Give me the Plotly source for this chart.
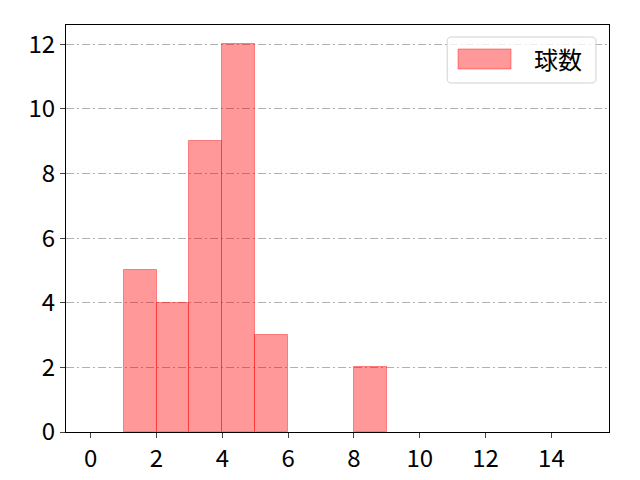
import plotly.graph_objects as go

# bin left edges and counts (bin width 1)
bin_starts = [1, 2, 3, 4, 5, 8]
counts = [5, 4, 9, 12, 3, 2]
x_ticks = [0, 2, 4, 6, 8, 10, 12, 14]
y_ticks = [0, 2, 4, 6, 8, 10, 12]
series_name = "球数"

centers = [b + 0.5 for b in bin_starts]
fill = "rgba(255,0,0,0.4)"
edge = "rgba(255,0,0,0.4)"

fig = go.Figure()
fig.add_trace(go.Bar(
    x=centers, y=counts, width=1, name=series_name,
    marker=dict(color=fill, line=dict(color=edge, width=1)),
    showlegend=False,
))

font = "Noto Sans CJK JP"
fig.update_layout(
    width=640, height=480,
    margin=dict(l=58, r=39, t=17, b=56),
    plot_bgcolor="white", paper_bgcolor="white",
    font=dict(family=font, size=24, color="black"),
    bargap=0,
)
fig.update_xaxes(range=[-0.75, 15.75], tickvals=x_ticks, ticks="outside", ticklen=5,
                 showline=True, linecolor="black", mirror=True, showgrid=False,
                 zeroline=False, automargin=False)
fig.update_yaxes(range=[0, 12.6], tickvals=y_ticks, ticks="outside", ticklen=5,
                 showline=True, linecolor="black", mirror=True,
                 showgrid=True, gridcolor="#b0b0b0", griddash="8px,3px,2px,3px", gridwidth=1,
                 zeroline=False, automargin=False)

# legend drawn by hand so the patch and rounded frame look like the reference
x0, x1, y0, y1 = 0.702, 0.976, 0.8575, 0.9705
rx, ry = 0.008, 0.011
frame = (f"M{x0+rx},{y0} L{x1-rx},{y0} Q{x1},{y0} {x1},{y0+ry} "
         f"L{x1},{y1-ry} Q{x1},{y1} {x1-rx},{y1} L{x0+rx},{y1} "
         f"Q{x0},{y1} {x0},{y1-ry} L{x0},{y0+ry} Q{x0},{y0} {x0+rx},{y0} Z")
fig.add_shape(type="path", path=frame, xref="paper", yref="paper",
              line=dict(color="#d0d0d0", width=1), fillcolor="rgba(255,255,255,0.8)")
fig.add_shape(type="rect", xref="paper", yref="paper", x0=0.722, x1=0.8195, y0=0.892, y1=0.941,
              line=dict(color=edge, width=1), fillcolor=fill)
fig.add_annotation(text=series_name, xref="paper", yref="paper", x=0.906, y=0.9165,
                   showarrow=False, xanchor="center", yanchor="middle", font=dict(size=24))

fig.write_html("out.html")
